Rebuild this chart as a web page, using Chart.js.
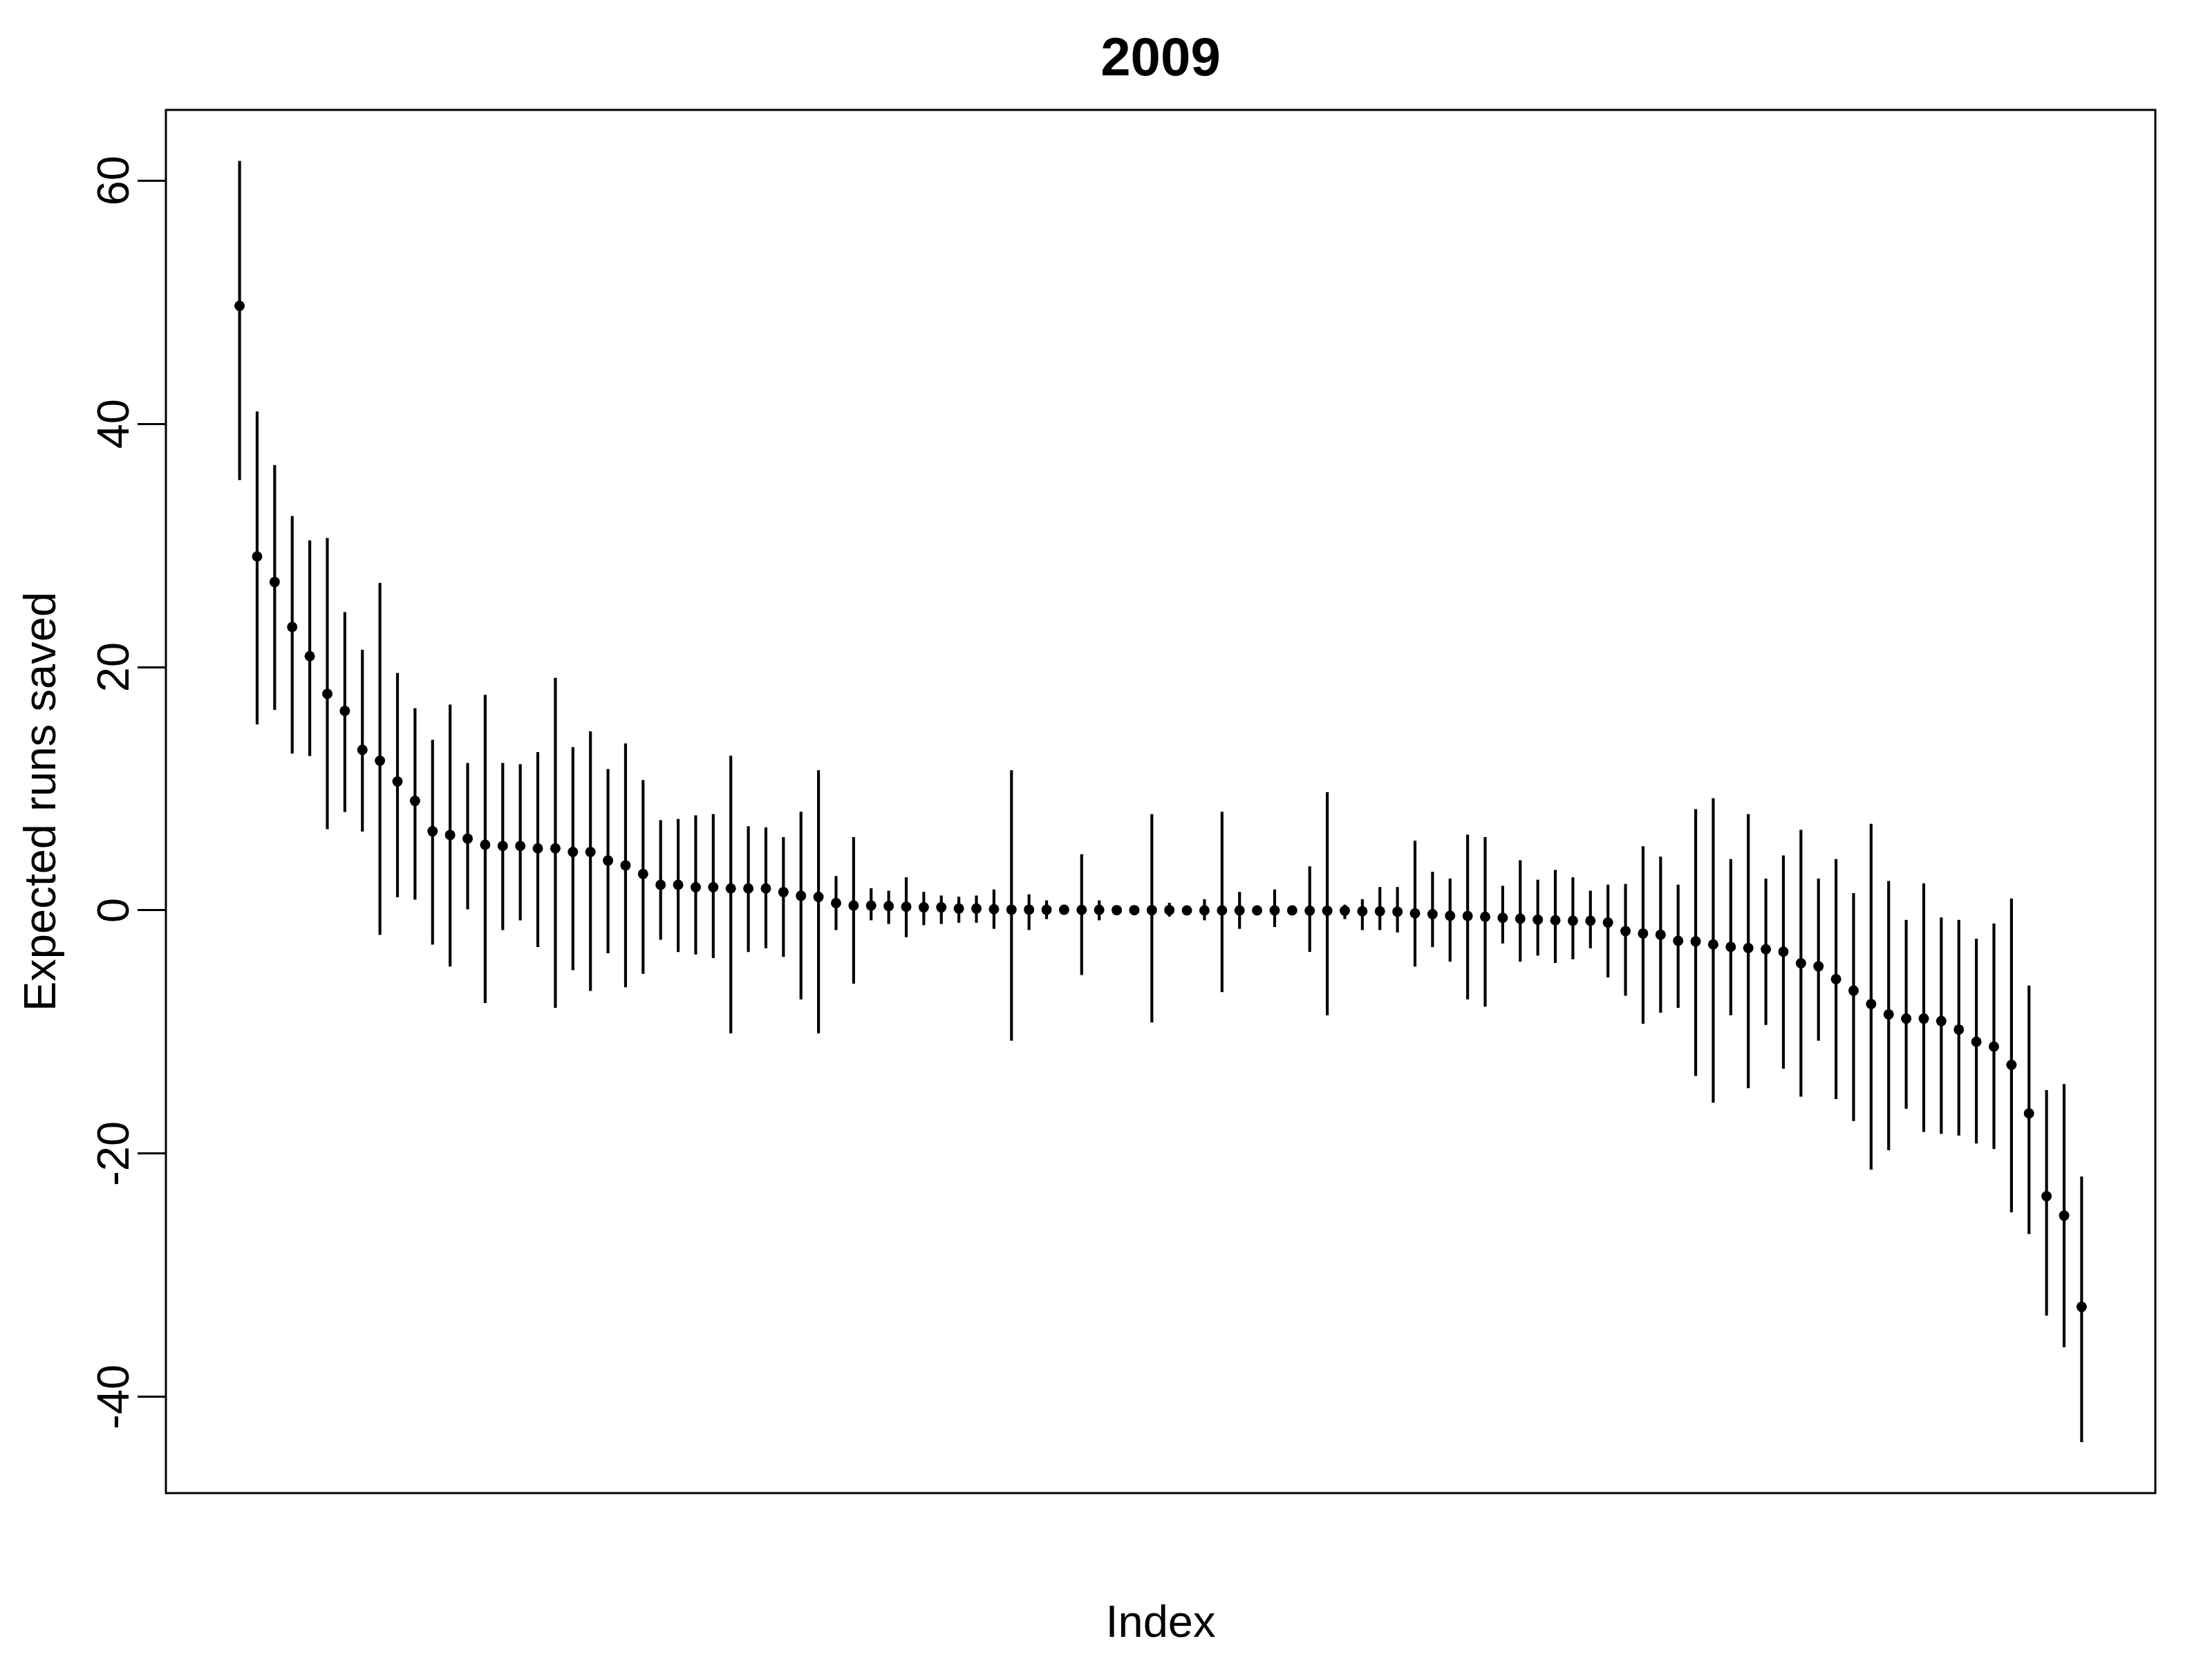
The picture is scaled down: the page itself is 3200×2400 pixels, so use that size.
<!DOCTYPE html>
<html>
<head>
<meta charset="utf-8">
<title>2009</title>
<script src="https://cdn.jsdelivr.net/npm/chart.js@4"></script>
<style>
  html, body { margin: 0; padding: 0; background: #fff; }
  canvas { display: block; }
</style>
</head>
<body>
<canvas id="chart" width="3200" height="2400" style="width:3200px;height:2400px"></canvas>
<script>
// point estimates, sorted high to low
const estimates = [
  49.7, 29.1, 27.0, 23.3, 20.9, 17.8, 16.4, 13.2, 12.3, 10.6,
  9.0, 6.5, 6.2, 5.9, 5.4, 5.3, 5.3, 5.1, 5.1, 4.8,
  4.8, 4.1, 3.7, 3.0, 2.1, 2.1, 1.9, 1.9, 1.8, 1.8,
  1.8, 1.5, 1.2, 1.1, 0.6, 0.4, 0.4, 0.35, 0.3, 0.25,
  0.25, 0.15, 0.15, 0.1, 0.06, 0.06, 0.05, 0.05, 0.04, 0.04,
  0.02, 0.02, 0.02, 0.02, 0.0, 0.0, 0.0, 0.0, 0.0, 0.0,
  0.0, -0.03, -0.03, -0.03, -0.07, -0.07, -0.11, -0.24, -0.31, -0.44,
  -0.46, -0.53, -0.61, -0.68, -0.77, -0.81, -0.85, -0.85, -1.0, -1.7,
  -1.9, -2.0, -2.5, -2.55, -2.8, -3.0, -3.1, -3.2, -3.4, -4.35,
  -4.6, -5.65, -6.6, -7.7, -8.55, -8.9, -8.9, -9.1, -9.8, -10.8,
  -11.2, -12.7, -16.7, -23.5, -25.1, -32.6
];

// lower ends of the intervals
const lower = [
  35.4, 15.3, 16.5, 12.9, 12.7, 6.7, 8.1, 6.5, -2.0, 1.1,
  0.9, -2.8, -4.6, 0.1, -7.6, -1.6, -0.8, -3.0, -8.0, -4.9,
  -6.6, -3.5, -6.3, -5.2, -2.4, -3.4, -3.6, -3.9, -10.1, -3.4,
  -3.1, -3.8, -7.3, -10.1, -1.6, -6.0, -0.8, -1.1, -2.2, -1.2,
  -1.1, -1.0, -1.0, -1.5, -10.7, -1.6, -0.7, -0.3, -5.3, -0.8,
  -0.3, -0.3, -9.2, -0.5, -0.3, -0.8, -6.7, -1.5, -0.3, -1.35,
  -0.3, -3.4, -8.6, -0.7, -1.6, -1.6, -1.8, -4.6, -3.0, -4.2,
  -7.3, -7.9, -2.7, -4.2, -3.7, -4.3, -4.0, -3.1, -5.5, -7.0,
  -9.3, -8.4, -8.0, -13.6, -15.8, -8.6, -14.6, -9.4, -13.0, -15.3,
  -10.7, -15.5, -17.3, -21.3, -19.7, -16.3, -18.2, -18.35, -18.5, -19.15,
  -19.6, -24.8, -26.6, -33.3, -35.9, -43.7
];

// upper ends of the intervals
const upper = [
  61.6, 41.0, 36.6, 32.4, 30.4, 30.6, 24.5, 21.4, 26.9, 19.5,
  16.6, 14.0, 16.9, 12.1, 17.7, 12.1, 12.0, 13.0, 19.1, 13.4,
  14.7, 11.6, 13.7, 10.7, 7.4, 7.5, 7.8, 7.9, 12.7, 6.9,
  6.8, 6.0, 8.1, 11.5, 2.8, 6.0, 1.8, 1.6, 2.7, 1.5,
  1.2, 1.1, 1.2, 1.7, 11.5, 1.3, 0.8, 0.4, 4.6, 0.8,
  0.3, 0.3, 7.9, 0.6, 0.3, 0.9, 8.1, 1.5, 0.3, 1.7,
  0.3, 3.6, 9.7, 0.45, 0.9, 1.9, 1.9, 5.7, 3.15, 2.6,
  6.2, 6.0, 2.0, 4.1, 2.5, 3.3, 2.7, 1.6, 2.1, 2.15,
  5.25, 4.4, 2.1, 8.3, 9.2, 4.2, 7.9, 2.6, 4.5, 6.6,
  2.6, 4.2, 1.4, 7.1, 2.4, -0.8, 2.2, -0.6, -0.8, -2.35,
  -1.1, 0.96, -6.2, -14.8, -14.3, -21.9
];

const yTicks = [-40, -20, 0, 20, 40, 60];
const titleText = "2009";
const xLabel = "Index";
const yLabel = "Expected runs saved";

const index = estimates.map((_, i) => i + 1);

// R-style 4% padding round the data range
const lo = Math.min(...lower), hi = Math.max(...upper);
const yPad = (hi - lo) * 0.04;
const xPad = (index.length - 1) * 0.04;

const FONT = '"Liberation Sans", Arial, Helvetica, sans-serif';

// box, rotated tick labels and titles, drawn the way base R does it
const rStyle = {
  id: "rStyle",
  afterDraw(chart) {
    const { ctx, chartArea: a, scales } = chart;
    ctx.save();
    ctx.strokeStyle = "#000";
    ctx.lineWidth = 3;
    ctx.strokeRect(a.left, a.top, a.right - a.left, a.bottom - a.top);

    ctx.fillStyle = "#000";
    ctx.font = "65px " + FONT;
    ctx.textAlign = "center";
    ctx.textBaseline = "alphabetic";
    yTicks.forEach(v => {
      const y = scales.y.getPixelForValue(v);
      ctx.save();
      ctx.translate(186, y);
      ctx.rotate(-Math.PI / 2);
      ctx.fillText(String(v), 0, 0);
      ctx.restore();
    });

    ctx.save();
    ctx.translate(80, (a.top + a.bottom) / 2);
    ctx.rotate(-Math.PI / 2);
    ctx.fillText(yLabel, 0, 0);
    ctx.restore();

    const cx = (a.left + a.right) / 2;
    ctx.fillText(xLabel, cx, 2368);

    ctx.font = "bold 78px " + FONT;
    ctx.fillText(titleText, cx, 109);
    ctx.restore();
  }
};

new Chart(document.getElementById("chart"), {
  type: "scatter",
  data: {
    datasets: [
      {
        type: "bar",
        data: index.map((x, i) => ({ x: x, y: [lower[i], upper[i]] })),
        backgroundColor: "#000",
        borderWidth: 0,
        barThickness: 3.5,
        order: 2
      },
      {
        type: "scatter",
        data: index.map((x, i) => ({ x: x, y: estimates[i] })),
        backgroundColor: "#000",
        borderWidth: 0,
        pointRadius: 7.5,
        order: 1
      }
    ]
  },
  options: {
    responsive: false,
    devicePixelRatio: 1,
    animation: false,
    layout: { padding: { top: 159, right: 82, left: 0, bottom: 0 } },
    plugins: {
      legend: { display: false },
      tooltip: { enabled: false }
    },
    scales: {
      x: {
        type: "linear",
        min: 1 - xPad,
        max: index.length + xPad,
        offset: false,
        ticks: { display: false },
        grid: { display: false, offset: false },
        border: { display: false },
        afterFit(s) { s.height = 240; }
      },
      y: {
        type: "linear",
        min: lo - yPad,
        max: hi + yPad,
        afterBuildTicks(s) { s.ticks = yTicks.map(v => ({ value: v })); },
        ticks: { display: false },
        grid: {
          drawOnChartArea: false,
          drawTicks: true,
          tickLength: 41,
          tickWidth: 3,
          tickColor: "#000",
          color: "#000",
          lineWidth: 3
        },
        border: { display: false },
        afterFit(s) { s.width = 240; }
      }
    }
  },
  plugins: [rStyle]
});
</script>
</body>
</html>
